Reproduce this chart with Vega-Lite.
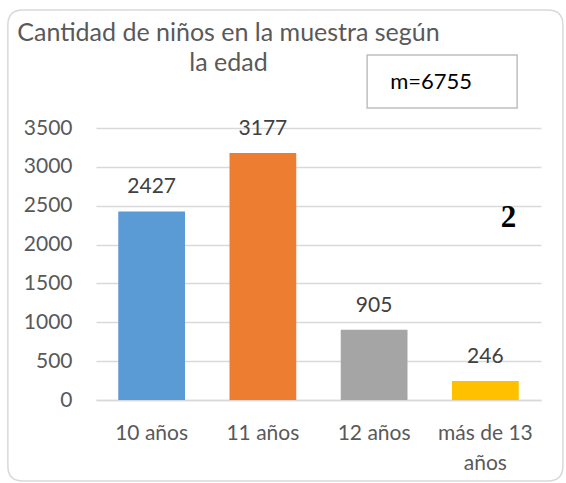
{
  "$schema": "https://vega.github.io/schema/vega-lite/v6.json",
  "autosize": "none",
  "width": 445,
  "height": 272,
  "padding": {"left": 96, "top": 128, "right": 25, "bottom": 83},
  "background": "white",
  "config": {
    "font": "Lato",
    "view": {"stroke": null},
    "axis": {"labelFont": "Lato", "labelFontSize": 21, "labelColor": "#595959", "titleColor": "#595959"}
  },
  "title": {
    "text": ["Cantidad de niños en la muestra según", "la edad"],
    "anchor": "middle",
    "frame": "group",
    "dx": -90,
    "dy": 69,
    "fontSize": 25,
    "fontWeight": "normal",
    "color": "#595959",
    "lineHeight": 30,
    "offset": 0
  },
  "datasets": {
    "ninos": [
      {"edad": "10 años", "n": 2427},
      {"edad": "11 años", "n": 3177},
      {"edad": "12 años", "n": 905},
      {"edad": "más de 13 años", "n": 246}
    ],
    "notas": [
      {"etiqueta": "m=6755"}
    ],
    "numero": [
      {"etiqueta": "2"}
    ]
  },
  "layer": [
    {
      "data": {"name": "ninos"},
      "mark": {"type": "bar"},
      "encoding": {
        "x": {
          "field": "edad", "type": "nominal", "sort": ["10 años", "11 años", "12 años", "más de 13 años"],
          "scale": {"paddingInner": 0.4, "paddingOuter": 0.2},
          "axis": {
            "title": null, "labelAngle": 0, "ticks": false, "domainColor": "#D9D9D9", "domainWidth": 1.3,
            "labelPadding": 22, "labelLineHeight": 30,
            "labelExpr": "datum.label == 'más de 13 años' ? ['más de 13', 'años'] : datum.label"
          }
        },
        "y": {
          "field": "n", "type": "quantitative",
          "scale": {"domain": [0, 3500]},
          "axis": {
            "title": null, "values": [0, 500, 1000, 1500, 2000, 2500, 3000, 3500], "format": "d",
            "ticks": false, "domain": false, "gridColor": "#D9D9D9", "gridWidth": 1.3,
            "labelPadding": 24
          }
        },
        "color": {
          "field": "edad", "type": "nominal", "sort": null,
          "scale": {"range": ["#5B9BD5", "#ED7D31", "#A5A5A5", "#FFC000"]},
          "legend": null
        }
      }
    },
    {
      "data": {"name": "ninos"},
      "mark": {"type": "text", "fontSize": 21, "color": "#404040", "baseline": "alphabetic", "dy": -18},
      "encoding": {
        "x": {"field": "edad", "type": "nominal", "sort": ["10 años", "11 años", "12 años", "más de 13 años"]},
        "y": {
          "field": "n", "type": "quantitative",
          "axis": {
            "title": null, "values": [0, 500, 1000, 1500, 2000, 2500, 3000, 3500], "format": "d",
            "ticks": false, "domain": false, "gridColor": "#D9D9D9", "gridWidth": 1.3,
            "labelPadding": 24
          }
        },
        "text": {"field": "n", "type": "quantitative"}
      }
    },
    {
      "data": {"name": "notas"},
      "mark": {"type": "point", "shape": "M-7,-73H143V-20H-7Z", "size": 4, "filled": false, "stroke": "#BFBFBF", "strokeWidth": 1.5, "opacity": 1},
      "encoding": {
        "x": {"datum": "12 años", "type": "nominal"},
        "y": {"datum": 3500, "type": "quantitative", "axis": {"title": null, "values": [0, 500, 1000, 1500, 2000, 2500, 3000, 3500], "format": "d", "ticks": false, "domain": false, "gridColor": "#D9D9D9", "gridWidth": 1.3, "labelPadding": 24}}
      }
    },
    {
      "data": {"name": "notas"},
      "mark": {"type": "text", "fontSize": 22, "color": "#000000", "align": "center", "baseline": "middle", "dx": 57, "dy": -46},
      "encoding": {
        "x": {"datum": "12 años", "type": "nominal"},
        "y": {"datum": 3500, "type": "quantitative", "axis": {"title": null, "values": [0, 500, 1000, 1500, 2000, 2500, 3000, 3500], "format": "d", "ticks": false, "domain": false, "gridColor": "#D9D9D9", "gridWidth": 1.3, "labelPadding": 24}},
        "text": {"field": "etiqueta", "type": "nominal"}
      }
    },
    {
      "data": {"name": "numero"},
      "mark": {"type": "text", "font": "Liberation Serif", "fontWeight": "bold", "fontSize": 31, "color": "#000000", "align": "center", "baseline": "middle", "dx": 23, "dy": 12},
      "encoding": {
        "x": {"datum": "más de 13 años", "type": "nominal"},
        "y": {"datum": 2500, "type": "quantitative", "axis": {"title": null, "values": [0, 500, 1000, 1500, 2000, 2500, 3000, 3500], "format": "d", "ticks": false, "domain": false, "gridColor": "#D9D9D9", "gridWidth": 1.3, "labelPadding": 24}},
        "text": {"field": "etiqueta", "type": "nominal"}
      }
    },
    {
      "data": {"name": "numero"},
      "mark": {"type": "point", "shape": "M-240,-390H285Q300,-390 300,-375V66Q300,81 285,81H-240Q-255,81 -255,66V-375Q-255,-390 -240,-390Z", "size": 4, "filled": false, "stroke": "#D9D9D9", "strokeWidth": 1.5, "opacity": 1},
      "encoding": {
        "x": {"datum": "11 años", "type": "nominal"},
        "y": {"datum": 0, "type": "quantitative", "axis": {"title": null, "values": [0, 500, 1000, 1500, 2000, 2500, 3000, 3500], "format": "d", "ticks": false, "domain": false, "gridColor": "#D9D9D9", "gridWidth": 1.3, "labelPadding": 24}}
      }
    }
  ]
}
